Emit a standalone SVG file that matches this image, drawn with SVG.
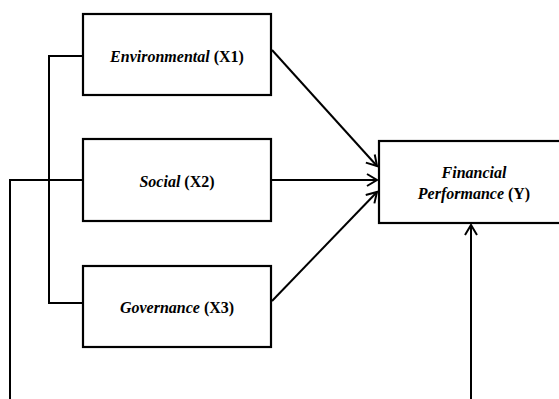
<svg xmlns="http://www.w3.org/2000/svg" width="559" height="399" viewBox="0 0 559 399">
<style>
.box{fill:#fff;stroke:#000;stroke-width:2.2}
.ln{fill:none;stroke:#000;stroke-width:2}
text{font-family:"Liberation Serif","Times New Roman",serif;font-weight:bold;font-size:16px;text-anchor:middle;fill:#000}
.i{font-style:italic}
</style>
<defs>
<marker id="arr" markerWidth="14" markerHeight="14" refX="12" refY="7" orient="auto" markerUnits="userSpaceOnUse">
<path d="M2,1 L12,7 L2,13" fill="none" stroke="#000" stroke-width="2"/>
</marker>
</defs>
<g id="connectors">
<path class="ln" d="M83,56 H49 V303 H83"/>
<path class="ln" d="M83,180 H10 V399"/>
<line class="ln" x1="272" y1="50" x2="377" y2="166" marker-end="url(#arr)"/>
<line class="ln" x1="272" y1="180" x2="377" y2="180" marker-end="url(#arr)"/>
<line class="ln" x1="272" y1="301" x2="377" y2="192" marker-end="url(#arr)"/>
<line class="ln" x1="471" y1="399" x2="471" y2="225" marker-end="url(#arr)"/>
</g>
<g id="x1">
<rect class="box" x="83" y="14" width="188" height="81"/>
<text x="177" y="62"><tspan class="i">Environmental</tspan> (X1)</text>
</g>
<g id="x2">
<rect class="box" x="83" y="139" width="188" height="82"/>
<text x="177" y="187"><tspan class="i">Social</tspan> (X2)</text>
</g>
<g id="x3">
<rect class="box" x="83" y="266" width="188" height="81"/>
<text x="177" y="313"><tspan class="i">Governance</tspan> (X3)</text>
</g>
<g id="y">
<rect class="box" x="379" y="141" width="190" height="82"/>
<text x="474" y="178" class="i">Financial</text>
<text x="474" y="199"><tspan class="i">Performance</tspan> (Y)</text>
</g>
</svg>
